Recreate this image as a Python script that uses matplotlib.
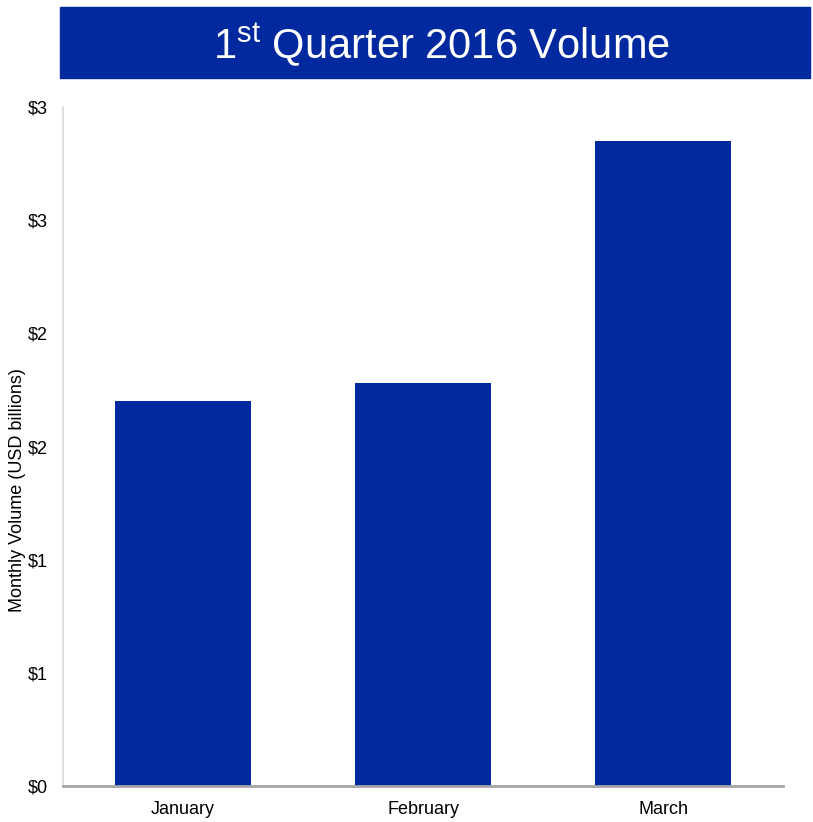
import matplotlib.pyplot as plt
from matplotlib.patches import Rectangle

plt.rcParams['font.family'] = ['Liberation Sans', 'DejaVu Sans']
plt.rcParams['mathtext.fontset'] = 'custom'
plt.rcParams['mathtext.rm'] = 'Liberation Sans'

# data (USD billions)
months = ['January', 'February', 'March']
volume = [1.70, 1.78, 2.85]
tick_values = [0, 0.5, 1.0, 1.5, 2.0, 2.5, 3.0]
tick_labels = ['$0', '$1', '$1', '$2', '$2', '$3', '$3']

blue = '#0029A0'

fig = plt.figure(figsize=(8.13, 8.22), dpi=100)
ax = fig.add_axes([63 / 813, 36 / 822, 720 / 813, 679 / 822])

ax.bar(range(len(months)), volume, width=0.565, color=blue)
ax.set_xlim(-0.5, 2.5)
ax.set_ylim(0, 3)
ax.set_yticks(tick_values)
ax.set_yticklabels(tick_labels, fontsize=13)
ax.set_xticks(range(len(months)))
ax.set_xticklabels(months, fontsize=13)
ax.tick_params(axis='y', length=0, pad=11)
ax.tick_params(axis='x', length=0, pad=11)

for s in ['top', 'right']:
    ax.spines[s].set_visible(False)
ax.spines['left'].set_color('#d9d9d9')
ax.spines['left'].set_linewidth(1.2)
ax.spines['bottom'].set_color('#a6a6a6')
ax.spines['bottom'].set_linewidth(2)

fig.text(18 / 813, (822 - 490) / 822, 'Monthly Volume (USD billions)',
         rotation=90, ha='center', va='center', fontsize=13)

# title banner
fig.patches.append(Rectangle((60 / 813, (822 - 78) / 822), 750 / 813, 71 / 822,
                             transform=fig.transFigure, color=blue, zorder=0))
fig.text(442 / 813, (822 - 45) / 822, r'$\mathregular{1^{st}}$ Quarter 2016 Volume',
         ha='center', va='center', color='white', fontsize=30)

fig.savefig('out.png', dpi=100)
